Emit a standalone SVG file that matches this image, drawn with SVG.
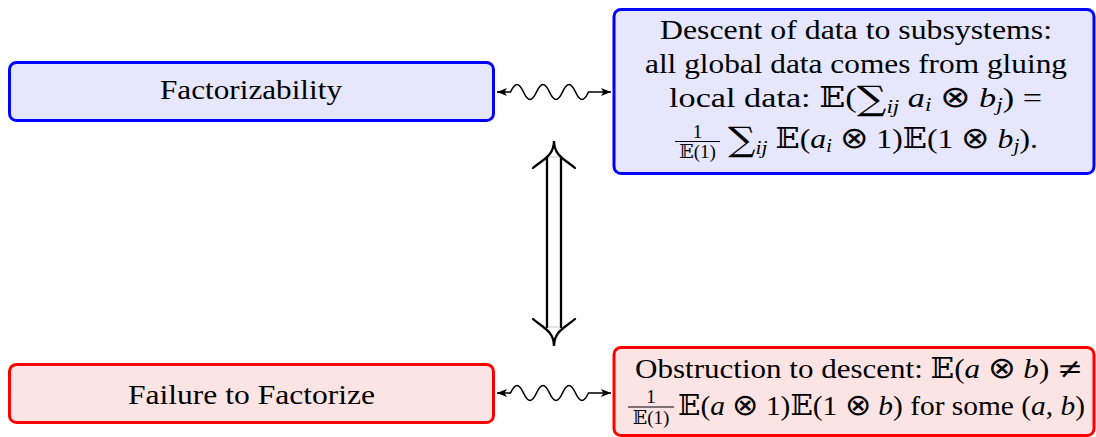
<svg xmlns="http://www.w3.org/2000/svg" width="1096" height="437" viewBox="0 0 1096 437">
<style>
.t{font-family:"Liberation Serif","Times New Roman",Tinos,serif;font-size:28px;fill:#000}
.s{font-size:19px}
.i{font-style:italic}
.g{font-family:"DejaVu Serif","DejaVu Sans",serif;font-style:normal}
.u{font-family:"DejaVu Serif","DejaVu Sans",serif;font-style:normal;font-size:34px}
.o{font-family:"DejaVu Sans",sans-serif;font-weight:200;font-size:30px}
.bx{stroke:#0000ff;stroke-width:3;fill:#e6e6fd}
.rx{stroke:#ff0000;stroke-width:3;fill:#fde4e4}
.w{fill:none;stroke:#000;stroke-width:1.6}
.d{fill:none;stroke:#000;stroke-width:2.3;stroke-linecap:round}
</style>
<defs>
<marker id="ah" viewBox="0 0 10 8" refX="10" refY="4" markerWidth="10" markerHeight="8" markerUnits="userSpaceOnUse" orient="auto-start-reverse">
<path d="M0,0 L10,4 L0,8 L2.5,4 Z" fill="#000"/>
</marker>
</defs>
<rect width="1096" height="437" fill="#fff"/>
<g id="factorizability">
<rect class="bx" x="9.5" y="62.5" width="484" height="58" rx="7"/>
<text class="t" x="251" y="99" text-anchor="middle" textLength="182" lengthAdjust="spacingAndGlyphs">Factorizability</text>
</g>
<g id="descent">
<rect class="bx" x="614" y="9.5" width="480" height="164" rx="7"/>
<text class="t" x="856" y="39" text-anchor="middle" textLength="392" lengthAdjust="spacingAndGlyphs">Descent of data to subsystems:</text>
<text class="t" x="856" y="73" text-anchor="middle" textLength="422" lengthAdjust="spacingAndGlyphs">all global data comes from gluing</text>
<text class="t" x="669" y="107" textLength="373" lengthAdjust="spacingAndGlyphs">local data: <tspan class="g">𝔼</tspan>(<tspan class="u" dy="3">∑</tspan><tspan class="s i" dy="3">ij</tspan><tspan dy="-6"> </tspan><tspan class="i">a</tspan><tspan class="s i" dy="4">i</tspan><tspan dy="-4"> </tspan><tspan class="o">⊗</tspan> <tspan class="i">b</tspan><tspan class="s i" dy="4">j</tspan><tspan dy="-4">)   =</tspan></text>
<text class="t s" x="697.5" y="138" text-anchor="middle">1</text>
<line x1="675" y1="141.5" x2="720" y2="141.5" stroke="#000" stroke-width="1"/>
<text class="t s" x="697.5" y="158" text-anchor="middle"><tspan class="g">𝔼</tspan>(1)</text>
<text class="t" x="728" y="148" textLength="310" lengthAdjust="spacingAndGlyphs"><tspan class="u" dy="3">∑</tspan><tspan class="s i" dy="3">ij</tspan><tspan dy="-6"> </tspan><tspan class="g">𝔼</tspan>(<tspan class="i">a</tspan><tspan class="s i" dy="4">i</tspan><tspan dy="-4"> </tspan><tspan class="o">⊗</tspan> 1)<tspan class="g">𝔼</tspan>(1 <tspan class="o">⊗</tspan> <tspan class="i">b</tspan><tspan class="s i" dy="4">j</tspan><tspan dy="-4">).</tspan></text>
</g>
<g id="failure">
<rect class="rx" x="9.5" y="364.5" width="484" height="58" rx="7"/>
<text class="t" x="251.5" y="404" text-anchor="middle" textLength="247" lengthAdjust="spacingAndGlyphs">Failure to Factorize</text>
</g>
<g id="obstruction">
<rect class="rx" x="614" y="347.5" width="480" height="88" rx="7"/>
<text class="t" x="635" y="378" textLength="448" lengthAdjust="spacingAndGlyphs">Obstruction to descent: <tspan class="g">𝔼</tspan>(<tspan class="i">a</tspan> <tspan class="o">⊗</tspan> <tspan class="i">b</tspan>) <tspan class="g">≠</tspan></text>
<text class="t s" x="651" y="403" text-anchor="middle">1</text>
<line x1="628" y1="407" x2="674" y2="407" stroke="#000" stroke-width="1"/>
<text class="t s" x="651" y="424" text-anchor="middle"><tspan class="g">𝔼</tspan>(1)</text>
<text class="t" x="678" y="415" textLength="407" lengthAdjust="spacingAndGlyphs"><tspan class="g">𝔼</tspan>(<tspan class="i">a</tspan> <tspan class="o">⊗</tspan> 1)<tspan class="g">𝔼</tspan>(1 <tspan class="o">⊗</tspan> <tspan class="i">b</tspan>) for some (<tspan class="i">a</tspan>, <tspan class="i">b</tspan>)</text>
</g>
<g id="connectors">
<path class="w" marker-start="url(#ah)" marker-end="url(#ah)" d="M497,92 L510.5,92 c4.7,-10 8.3,-10 13,0 c4.7,10 8.3,10 13,0 c4.7,-10 8.3,-10 13,0 c4.7,10 8.3,10 13,0 c4.7,-10 8.3,-10 13,0 c4.7,10 8.3,10 13,0 L611,92"/>
<path class="w" marker-start="url(#ah)" marker-end="url(#ah)" d="M497,393 L510.5,393 c4.7,-10 8.3,-10 13,0 c4.7,10 8.3,10 13,0 c4.7,-10 8.3,-10 13,0 c4.7,10 8.3,10 13,0 c4.7,-10 8.3,-10 13,0 c4.7,10 8.3,10 13,0 L611,393"/>
<g id="implies">
<line x1="547" y1="157" x2="561" y2="157" stroke="#bbb" stroke-width="0.8"/>
<line x1="547" y1="327" x2="561" y2="327" stroke="#bbb" stroke-width="0.8"/>
<line class="d" x1="547" y1="157" x2="547" y2="327"/>
<line class="d" x1="561" y1="157" x2="561" y2="327"/>
<path class="d" d="M533,168 C542,160 554,156 554,141 C554,156 566,160 575,168"/>
<path class="d" d="M533,319 C542,327 554,331 554,346 C554,331 566,327 575,319"/>
</g>
</g>
</svg>
